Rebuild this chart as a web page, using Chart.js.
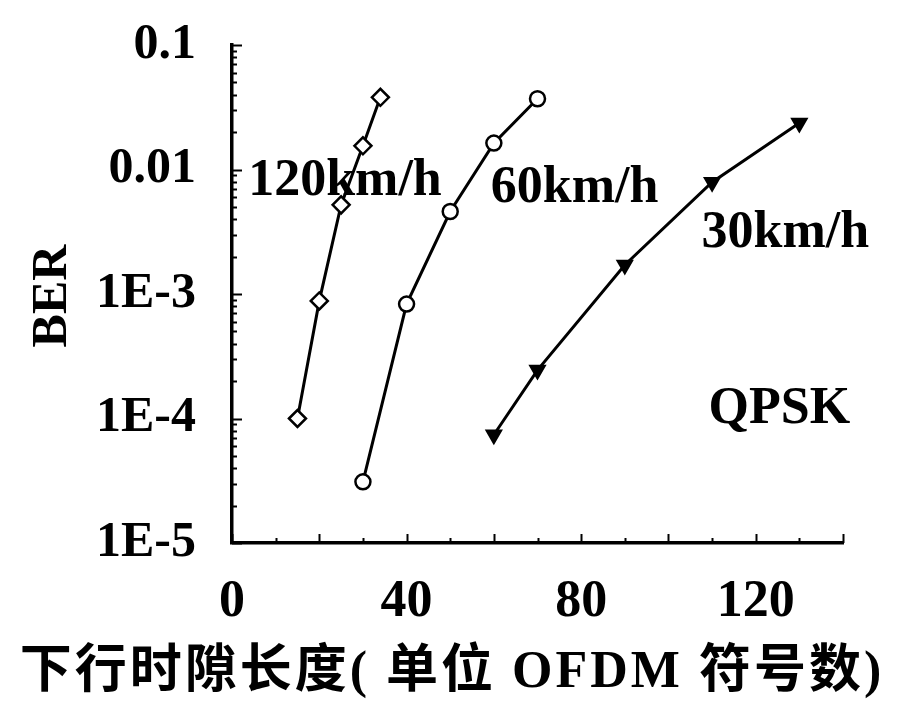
<!DOCTYPE html>
<html>
<head>
<meta charset="utf-8">
<script src="https://cdn.jsdelivr.net/npm/chart.js@4.4.1/dist/chart.umd.min.js"></script>
<style>
  html, body { margin: 0; padding: 0; background: #fff; }
  #wrap { width: 901px; height: 718px; }
</style>
</head>
<body>
<div id="wrap"><canvas id="c" width="901" height="718"></canvas></div>
<script>
// ---- data ----
const x120 = [15, 20, 25, 30, 34];
const ber120 = [1.0e-4, 8.8e-4, 5.2e-3, 1.55e-2, 3.8e-2];
const x60 = [30, 40, 50, 60, 70];
const ber60 = [3.1e-5, 8.3e-4, 4.6e-3, 1.63e-2, 3.7e-2];
const x30 = [60, 70, 90, 110, 130];
const ber30 = [7.4e-5, 2.45e-4, 1.71e-3, 7.9e-3, 2.36e-2];

const seriesNames = ['120km/h', '60km/h', '30km/h'];
const xTickValues = [0, 40, 80, 120];
const xTickLabels = ['0', '40', '80', '120'];
const yTickValues = [1e-5, 1e-4, 1e-3, 1e-2, 1e-1];
const yTickLabels = ['1E-5', '1E-4', '1E-3', '0.01', '0.1'];

const annoText = ['120km/h', '60km/h', '30km/h', 'QPSK'];
const annoX = [3.7, 59.3, 107.6, 109.2];
const annoY = [6.24e-3, 5.48e-3, 2.39e-3, 9.2e-5];

const xTitle = '下行时隙长度( 单位 OFDM 符号数)';
const yTitle = 'BER';

const SERIF = '"Liberation Serif", "Times New Roman", serif';
const TXT = '#000';

function pts(xs, ys) { return xs.map((x, i) => ({ x: x, y: ys[i] })); }

const annotationsPlugin = {
  id: 'annos',
  beforeDatasetsDraw(chart) {
    const { ctx, scales: { x, y } } = chart;
    ctx.save();
    ctx.fillStyle = TXT;
    ctx.font = 'bold 52px ' + SERIF;
    ctx.textAlign = 'left';
    ctx.textBaseline = 'alphabetic';
    annoText.forEach((t, i) => {
      ctx.fillText(t, x.getPixelForValue(annoX[i]), y.getPixelForValue(annoY[i]));
    });
    ctx.restore();
  },
  afterDraw(chart) {
    const { ctx, scales: { x, y }, chartArea } = chart;
    ctx.save();
    ctx.strokeStyle = '#000';
    ctx.lineWidth = 2;
    // x ticks (inside, upward)
    for (let v = 0; v <= 140; v += 10) {
      const px = Math.round(x.getPixelForValue(v)) + 0.5;
      const len = (v % 20 === 0) ? 9 : 5;
      ctx.beginPath();
      ctx.moveTo(px, chartArea.bottom);
      ctx.lineTo(px, chartArea.bottom - len);
      ctx.stroke();
    }
    // y ticks (inside, rightward) with log minor ticks
    for (let e = -5; e <= -1; e++) {
      for (let m = 1; m <= 9; m++) {
        const v = m * Math.pow(10, e);
        if (v > 0.1 * 1.0001) break;
        const py = Math.round(y.getPixelForValue(v)) + 0.5;
        const len = (m === 1) ? 10 : 5;
        ctx.beginPath();
        ctx.moveTo(chartArea.left, py);
        ctx.lineTo(chartArea.left + len, py);
        ctx.stroke();
      }
    }
    // axis titles
    ctx.fillStyle = TXT;
    ctx.font = 'bold 50px ' + SERIF;
    ctx.textAlign = 'center';
    ctx.textBaseline = 'middle';
    ctx.save();
    ctx.translate(53, 296);
    ctx.rotate(-Math.PI / 2);
    ctx.fillText(yTitle, 0, 0);
    ctx.restore();
    ctx.font = 'bold 52px "Liberation Serif", "Noto Sans CJK SC", serif';
    if ('letterSpacing' in ctx) ctx.letterSpacing = '3px';
    ctx.fillText(xTitle, 452, 674);
    ctx.restore();
  }
};

const common = {
  borderColor: '#000',
  borderWidth: 3,
  pointBorderColor: '#000',
  pointBorderWidth: 2.5,
  showLine: true,
  tension: 0,
  fill: false
};

new Chart(document.getElementById('c'), {
  type: 'scatter',
  data: {
    datasets: [
      Object.assign({}, common, {
        label: seriesNames[0], data: pts(x120, ber120),
        pointStyle: 'rectRot', pointRadius: 8.5, pointBackgroundColor: '#fff'
      }),
      Object.assign({}, common, {
        label: seriesNames[1], data: pts(x60, ber60),
        pointStyle: 'circle', pointRadius: 7.5, pointBackgroundColor: '#fff'
      }),
      Object.assign({}, common, {
        label: seriesNames[2], data: pts(x30, ber30),
        pointStyle: 'triangle', pointRotation: 180, pointRadius: 8,
        pointBackgroundColor: '#000'
      })
    ]
  },
  options: {
    responsive: false,
    devicePixelRatio: 1,
    animation: false,
    layout: { padding: { left: 0, right: 58, top: 45, bottom: 0 } },
    plugins: { legend: { display: false }, tooltip: { enabled: false }, title: { display: false } },
    scales: {
      x: {
        type: 'linear', min: 0, max: 140,
        grid: { display: false, drawTicks: false },
        border: { display: true, color: '#000', width: 3.5 },
        afterBuildTicks: (s) => { s.ticks = xTickValues.map(v => ({ value: v })); },
        afterFit: (s) => { s.height = 175; s.paddingLeft = 0; s.paddingRight = 0; },
        ticks: {
          color: TXT, padding: 28, maxRotation: 0, autoSkip: false,
          font: { family: SERIF, size: 52, weight: 'bold' },
          callback: (v) => { const i = xTickValues.indexOf(v); return i >= 0 ? xTickLabels[i] : ''; }
        }
      },
      y: {
        type: 'logarithmic', min: 1e-5, max: 0.1,
        grid: { display: false, drawTicks: false },
        border: { display: true, color: '#000', width: 3.5 },
        afterBuildTicks: (s) => { s.ticks = yTickValues.map(v => ({ value: v })); },
        afterFit: (s) => { s.width = 232; s.paddingTop = 0; s.paddingBottom = 0; },
        ticks: {
          color: TXT, padding: 36, autoSkip: false,
          font: { family: SERIF, size: 50, weight: 'bold' },
          callback: (v) => {
            const i = yTickValues.findIndex(t => Math.abs(Math.log10(t) - Math.log10(v)) < 1e-6);
            return i >= 0 ? yTickLabels[i] : '';
          }
        }
      }
    }
  },
  plugins: [annotationsPlugin]
});
</script>
</body>
</html>
